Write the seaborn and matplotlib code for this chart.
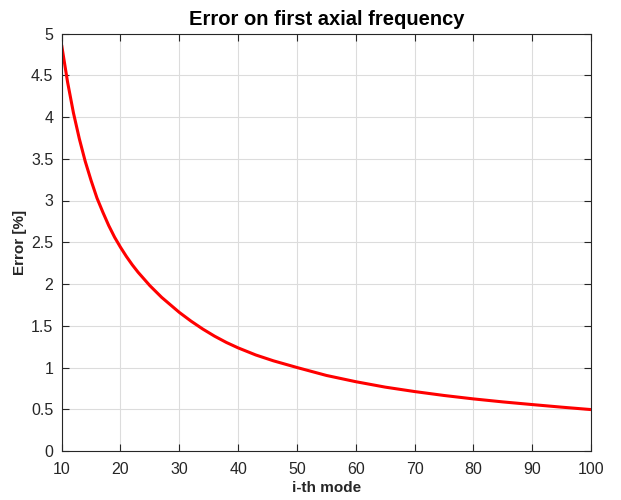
import numpy as np
import pandas as pd
import matplotlib
matplotlib.use("Agg")
import matplotlib.pyplot as plt
from matplotlib.ticker import FuncFormatter
import seaborn as sns

# values
mode = [10, 11, 12, 13, 14, 15, 16, 17, 18, 19, 20, 21, 22, 23, 24, 25, 26, 27, 28, 29, 30,
        32, 34, 36, 38, 40, 43, 46, 50, 55, 60, 65, 70, 75, 80, 85, 90, 95, 100]
err = [4.86, 4.42, 4.05, 3.74, 3.47, 3.24, 3.03, 2.86, 2.70, 2.56, 2.44, 2.33, 2.23, 2.14,
       2.06, 1.98, 1.91, 1.84, 1.78, 1.72, 1.66, 1.555, 1.46, 1.375, 1.30, 1.235, 1.15, 1.08,
       1.0, 0.905, 0.83, 0.765, 0.712, 0.665, 0.624, 0.588, 0.556, 0.525, 0.496]

df = pd.DataFrame({'mode': mode, 'err': err})

sns.set_style("white")
plt.rcParams['font.family'] = ['Liberation Sans', 'DejaVu Sans']
dark = '#262626'

fig = plt.figure(figsize=(6.21, 5), dpi=100)
ax = fig.add_axes([0.0993, 0.098, 0.8525, 0.835])

sns.lineplot(data=df, x='mode', y='err', color='red', linewidth=2.2, ax=ax)

ax.set_xlim(10, 100)
ax.set_ylim(0, 5)
ax.set_xticks(np.arange(10, 101, 10))
ax.set_yticks(np.arange(0, 5.01, 0.5))
ax.yaxis.set_major_formatter(FuncFormatter(lambda v, p: f'{v:g}'))

ax.grid(True, color='#dcdcdc', linewidth=0.8)
ax.set_axisbelow(True)
for s in ax.spines.values():
    s.set_visible(True)
    s.set_color(dark)
    s.set_linewidth(0.8)

ax.tick_params(direction='in', length=5, width=0.8, colors=dark, labelsize=11.5,
               top=True, right=True, bottom=True, left=True, labelcolor=dark)
ax.tick_params(axis='x', pad=8)
ax.tick_params(axis='y', pad=6)

ax.set_xlabel('i-th mode', fontsize=11, fontweight='bold', color=dark, labelpad=3)
ax.set_ylabel('Error [%]', fontsize=11, fontweight='bold', color=dark, labelpad=3)
ax.set_title('Error on first axial frequency', fontsize=14.5, fontweight='bold', color='black', pad=6)

fig.savefig('out.png', dpi=100)
